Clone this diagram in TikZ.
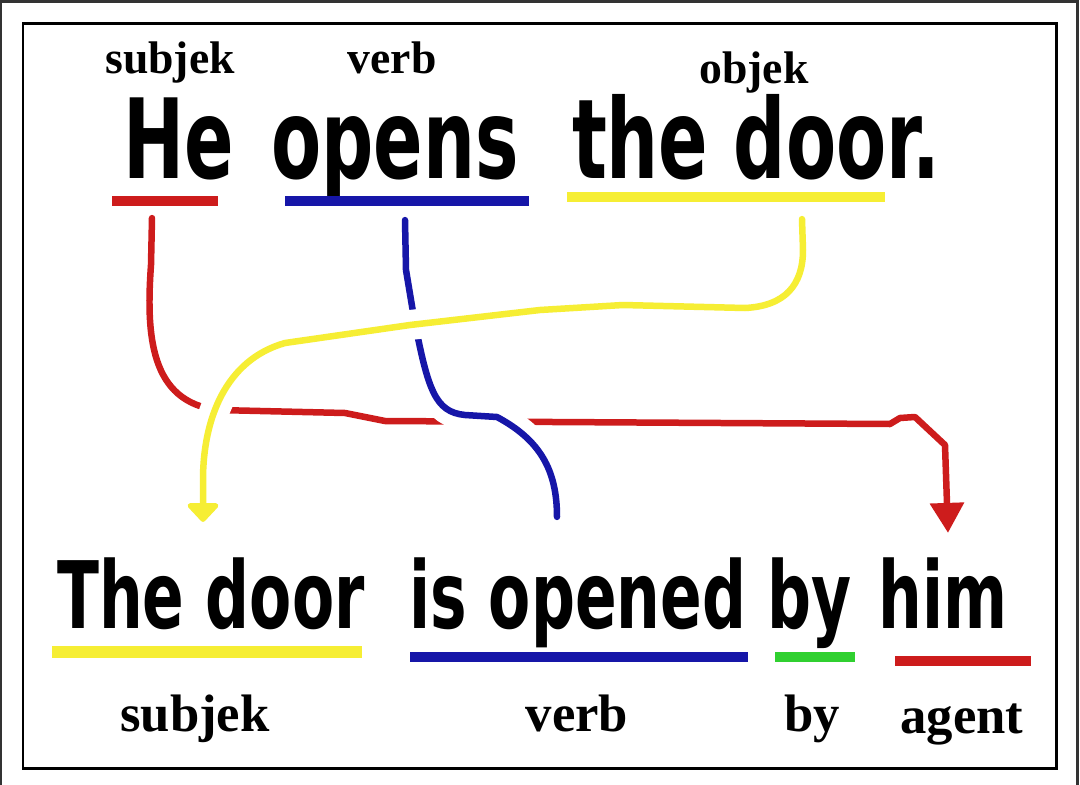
\documentclass[tikz,border=0pt]{standalone}
\usepackage{fontspec}
\usepackage{xcolor}
\usetikzlibrary{arrows.meta}
\newfontfamily\wordfont{DejaVu Sans}[FakeStretch=0.66]
\newfontfamily\tagfont{Liberation Serif}
\definecolor{penred}{RGB}{205,28,28}
\definecolor{penblue}{RGB}{22,22,168}
\definecolor{penyellow}{RGB}{246,238,52}
\definecolor{pengreen}{RGB}{48,208,48}
\tikzset{pen/.style={draw=#1, line width=0.13cm, line cap=round, line join=round},
  halo/.style={preaction={draw=white, line width=0.6cm, line cap=butt, arrows=-}}}

\begin{document}
\begin{tikzpicture}[x=0.02cm, y=-0.02cm,
    wordtop/.style={font=\wordfont\bfseries\fontsize{63}{63}\selectfont, anchor=base, inner sep=0pt},
    wordbot/.style={font=\wordfont\bfseries\fontsize{53}{53}\selectfont, anchor=base, inner sep=0pt},
    tagtop/.style={font=\tagfont\bfseries\fontsize{26}{26}\selectfont, anchor=base, inner sep=0pt},
    tagbot/.style={font=\tagfont\bfseries\fontsize{30}{30}\selectfont, anchor=base, inner sep=0pt},
    bar/.style={fill=#1, inner sep=0pt, minimum height=0.19cm}]
  \useasboundingbox (0,0) rectangle (1080,785);
  % Frames
  \draw[line width=0.06cm, black!80] (1,785) -- (1,1) -- (1077,1) -- (1077,785);
  \draw[line width=0.06cm] (23,23) rectangle (1056,768);

  % Active sentence
  \node[tagtop] (subjTop) at (170,73) {subjek};
  \node[tagtop] (verbTop) at (392,73) {verb};
  \node[tagtop] (objTop) at (754,83) {objek};
  \node[wordtop] (he) at (179,178) {He};
  \node[wordtop] (opens) at (395,178) {opens};
  \node[wordtop] (theDoor) at (756,178) {the door.};
  \node[bar=penred, minimum width=2.12cm] (barHe) at (165,201) {};
  \node[bar=penblue, minimum width=4.9cm] (barOpens) at (407,201) {};
  \node[bar=penyellow, minimum width=6.36cm] (barTheDoor) at (726,197) {};

  % Passive sentence
  \node[wordbot] (theDoorP) at (211,628) {The door};
  \node[wordbot] (isOpened) at (578,628) {is opened};
  \node[wordbot] (byWord) at (810,628) {by};
  \node[wordbot] (him) at (943,628) {him};
  \node[bar=penyellow, minimum width=6.2cm, minimum height=0.23cm] (barTheDoorP) at (207,652) {};
  \node[bar=penblue, minimum width=6.76cm] (barIsOpened) at (579,657) {};
  \node[bar=pengreen, minimum width=1.6cm] (barBy) at (815,657) {};
  \node[bar=penred, minimum width=2.74cm] (barHim) at (963,661) {};
  \node[tagbot] (subjBot) at (195,731) {subjek};
  \node[tagbot] (verbBot) at (577,731) {verb};
  \node[tagbot] (byBot) at (812,731) {by};
  \node[tagbot] (agentBot) at (962,733) {agent};

  % Links
  \draw[pen=penred, -{Triangle[width=0.66cm, length=0.6cm]}] ([shift={(-13,12)}]barHe.south) -- (151,265)
    .. controls (146,335) and (150,402) .. (218,410) -- (345,413) -- (385,421) -- (890,424)
    -- (900,418) -- (915,417) -- (945,445) -- ([shift={(5,-24)}]him.north);
  \draw[pen=penblue, halo] ([shift={(-2,14)}]barOpens.south) -- (406,270) -- (414,318)
    .. controls (428,390) and (435,412) .. (465,415) -- (497,417)
    .. controls (540,440) and (557,470) .. ([shift={(-21,-40)}]isOpened.north);
  \draw[pen=penyellow, halo, -{Triangle[width=0.72cm, length=0.4cm, round]}] ([shift={(76,17)}]barTheDoor.south)
    -- (803,250) .. controls (803,285) and (785,306) .. (745,308) -- (623,305) -- (540,310)
    -- (410,325) -- (285,343) .. controls (225,360) and (203,420) .. (203,480)
    -- ([shift={(-8,-35)}]theDoorP.north);
\end{tikzpicture}
\end{document}
